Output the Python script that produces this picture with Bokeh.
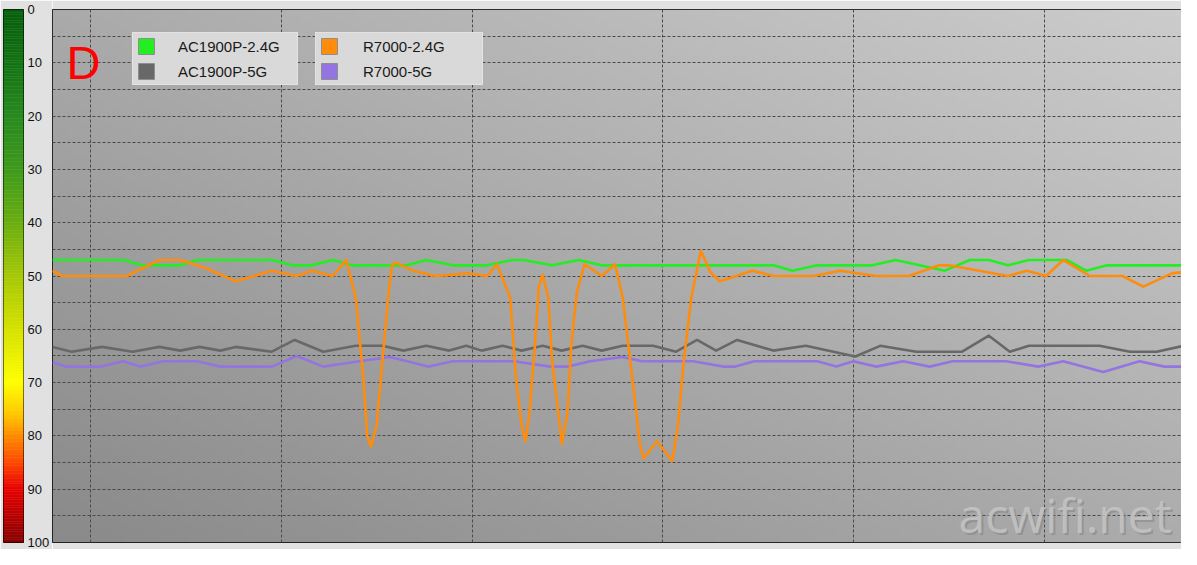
import numpy as np
from bokeh.plotting import figure
from bokeh.models import Range1d, Grid, FixedTicker, Legend, LegendItem, Label
from bokeh.layouts import row
from bokeh.embed import file_html
from bokeh.resources import INLINE

# ---------------- data (signal level, 0 = top, 100 = bottom) ----------------
SERIES = ["AC1900P-2.4G", "AC1900P-5G", "R7000-2.4G", "R7000-5G"]

GREEN_X = [0, 3.7, 4.7, 6.7, 7.6, 11.5, 12.6, 13.6, 14.7, 15.7, 18.6, 19.6, 21.0, 22.8, 24.1, 24.7,
           26.2, 27.6, 28.8, 37.8, 38.8, 40.1, 43.0, 44.2, 46.8, 48.1, 49.1, 50.1, 51.2, 53.2, 54.2,
           55.3, 60]
GREEN_Y = [47, 47, 48, 48, 47, 47, 48, 48, 47, 48, 48, 47, 48, 48, 47, 47,
           48, 47, 48, 48, 49, 48, 48, 47, 49, 47, 47, 48, 47, 47, 49,
           48, 48]

GRAY_X = [0, 1.0, 2.6, 4.2, 5.6, 6.7, 7.7, 8.8, 9.6, 11.5, 12.7, 14.2, 15.9, 17.3, 18.4, 19.6,
          20.8, 21.7, 22.5, 23.6, 24.6, 25.7, 26.7, 27.8, 28.8, 29.9, 31.5, 32.7, 33.8, 34.8, 35.9,
          37.8, 39.5, 42.1, 43.4, 45.3, 47.7, 49.1, 50.2, 51.2, 54.9, 56.5, 57.9, 59.3, 60]
GRAY_Y = [63.3, 64.2, 63.3, 64.2, 63.3, 64, 63.3, 64, 63.3, 64.2, 62, 64.2, 63.1, 63.1, 64, 63.1,
          64, 63.1, 64, 63.1, 64, 63.1, 64, 63.1, 64, 63.1, 63.1, 64.2, 62, 64, 62,
          64, 63.1, 65.1, 63.1, 64.2, 64.2, 61.2, 64.2, 63.1, 63.1, 64.2, 64.2, 63.1, 63.1]

ORANGE_X = [0, 0.5, 3.9, 5.6, 6.7, 8.1, 9.6, 11.5, 12.8, 13.6, 14.7, 15.4, 15.9, 16.3, 16.5, 16.7,
            17.0, 17.3, 17.6, 17.8, 18.0, 18.9, 20.1, 21.8, 22.8, 23.3, 24.0, 24.3, 24.6, 24.8,
            25.0, 25.3, 25.5, 25.7, 26.0, 26.2, 26.6, 26.7, 27.0, 27.2, 27.5, 27.9, 28.8, 29.5,
            29.9, 30.4, 30.8, 31.0, 31.7, 32.5, 32.8, 33.1, 33.5, 34.0, 34.5, 35.0, 36.7, 37.8,
            39.9, 41.3, 43.2, 44.9, 46.5, 47.0, 48.6, 50.1, 51.1, 52.1, 53.0, 54.4, 56.1, 57.2,
            58.7, 60]
ORANGE_Y = [49, 50, 50, 47, 47, 48.6, 51, 49, 50, 49, 50, 47, 54, 69, 80, 82,
            78, 66, 54, 48, 47.5, 49, 50, 49.5, 50, 47.8, 54, 69, 78, 81,
            76, 63, 52, 49.8, 54, 66, 78, 81.5, 76, 63, 53, 47.8, 50, 47.8,
            54, 69, 81.5, 84.2, 81, 84.7, 78, 66, 54, 45.3, 49.3, 51, 49, 50,
            50, 49, 50, 50, 48, 48, 49, 50, 49, 50, 47, 50, 50, 52,
            49.5, 49]

PURPLE_X = [0, 0.7, 2.5, 3.7, 4.6, 5.8, 7.6, 8.8, 11.5, 12.8, 14.2, 16.1, 17.7, 19.7, 21.0, 24.2,
            26.1, 27.0, 28.2, 29.9, 30.9, 33.6, 35.2, 35.8, 36.8, 40.1, 41.1, 42.0, 43.2, 44.6,
            46.0, 47.2, 50.0, 51.7, 53.0, 55.1, 57.0, 58.3, 60]
PURPLE_Y = [66.2, 67, 67, 66, 67, 66, 66, 67, 67, 65, 67, 66, 65.2, 67, 66, 66,
            67, 67, 66, 65.2, 66, 66, 67, 67, 66, 66, 67, 66, 67, 66,
            67, 66, 66, 67, 66, 68, 66, 67, 67]

Y_LABEL_TICKS = [0, 10, 20, 30, 40, 50, 60, 70, 80, 90, 100]
Y_GRID_TICKS = [5, 10, 15, 20, 25, 30, 35, 40, 45, 50, 55, 60, 65, 70, 75, 80, 85, 90, 95]
X_GRID_TICKS = [2, 12, 22, 32, 42, 52]

# ---------------- styling ----------------
FONT = "Liberation Sans"
C_GREEN = "#22ee22"
C_GRAY = "#686868"
C_ORANGE = "#ff8c0a"
C_PURPLE = "#9474e0"
PANEL = "#e1e1e1"

W_CB, W_MAIN, H = 52, 1129, 549
TOP, BOTTOM = 9, 7
FRAME_BOTTOM = H - BOTTOM
X_PX_PER_UNIT = 19.07

# ---------------- main plot ----------------
p = figure(width=W_MAIN, height=H, x_range=Range1d(0, W_MAIN / X_PX_PER_UNIT), y_range=Range1d(100, 0),
           x_axis_type=None, y_axis_type=None, toolbar_location=None, output_backend="svg",
           min_border_left=0, min_border_right=0, min_border_top=TOP, min_border_bottom=BOTTOM,
           background_fill_color="#a8a8a8", border_fill_color=PANEL,
           outline_line_color="black", outline_line_width=1)
p.extra_x_ranges = {"bg": Range1d(0, 1)}
p.extra_y_ranges = {"bg": Range1d(0, 1)}

# diagonal grey gradient background
GH, GW = 80, 160
yy, xx = np.mgrid[0:GH, 0:GW]
g = (138 + 34 * xx / (GW - 1) + 32 * yy / (GH - 1)).astype(np.uint8)
img = np.empty((GH, GW), dtype=np.uint32)
view = img.view(dtype=np.uint8).reshape((GH, GW, 4))
view[..., 0] = g
view[..., 1] = g
view[..., 2] = g
view[..., 3] = 255
p.image_rgba(image=[img], x=0, y=0, dw=1, dh=1, x_range_name="bg", y_range_name="bg", level="image")

grid_kw = dict(grid_line_color="#4a4a4a", grid_line_dash="3 2", grid_line_width=1)
p.add_layout(Grid(dimension=0, ticker=FixedTicker(ticks=X_GRID_TICKS), **grid_kw))
p.add_layout(Grid(dimension=1, ticker=FixedTicker(ticks=Y_GRID_TICKS), **grid_kw))

lw = 2.6
p.line(GREEN_X, GREEN_Y, line_color=C_GREEN, line_width=lw, line_join="round")
p.line(GRAY_X, GRAY_Y, line_color=C_GRAY, line_width=lw, line_join="round")
p.line(PURPLE_X, PURPLE_Y, line_color=C_PURPLE, line_width=lw, line_join="round")
p.line(ORANGE_X, ORANGE_Y, line_color=C_ORANGE, line_width=lw, line_join="round")

# legend swatches (legend-only renderers, nothing drawn in the plot)
def swatch(color):
    nan = [float("nan")]
    return p.quad(left=nan, right=nan, top=nan, bottom=nan, fill_color=color,
                  line_color="#8e8e8e", line_width=1)

sw = [swatch(C_GREEN), swatch(C_GRAY), swatch(C_ORANGE), swatch(C_PURPLE)]

leg_kw = dict(orientation="vertical", padding=3, spacing=5, margin=0,
              glyph_width=20, glyph_height=20, label_width=116, label_height=20,
              label_text_font=FONT, label_text_font_size="15px", label_text_color="#1a1a1a",
              background_fill_color="#d9d9d9", background_fill_alpha=1.0,
              border_line_color="#ededed", border_line_width=1)
LEG_BOTTOM = FRAME_BOTTOM - 85
leg1 = Legend(items=[LegendItem(label=SERIES[0], renderers=[sw[0]]),
                     LegendItem(label=SERIES[1], renderers=[sw[1]])],
              location=(80, LEG_BOTTOM), label_standoff=22, **leg_kw)
leg2 = Legend(items=[LegendItem(label=SERIES[2], renderers=[sw[2]]),
                     LegendItem(label=SERIES[3], renderers=[sw[3]])],
              location=(263, LEG_BOTTOM), label_standoff=24, **leg_kw)
p.add_layout(leg1)
p.add_layout(leg2)

p.add_layout(Label(x=14, y=FRAME_BOTTOM - 62, x_units="screen", y_units="screen", text="D",
                   text_baseline="alphabetic",
                   text_color="#ff0000", text_font=FONT, text_font_size="47px"))

# watermark (shadow + text)
p.add_layout(Label(x=908, y=26, x_units="screen", y_units="screen", text="acwifi.net",
                   text_baseline="alphabetic",
                   text_color="#7a7a7a", text_alpha=0.45, text_font="Open Sans", text_font_size="48px"))
p.add_layout(Label(x=906, y=28, x_units="screen", y_units="screen", text="acwifi.net",
                   text_baseline="alphabetic",
                   text_color="#c4c4c4", text_alpha=0.9, text_font="Open Sans", text_font_size="48px"))

# ---------------- colour scale (frame = bar, labels on a right axis) ----------------
cb = figure(width=W_CB, height=H, x_range=Range1d(0, 1), y_range=Range1d(100, 0),
            x_axis_type=None, y_axis_location="right", toolbar_location=None, output_backend="svg",
            min_border_left=3, min_border_right=0, min_border_top=TOP, min_border_bottom=BOTTOM,
            background_fill_color=PANEL, border_fill_color=PANEL,
            outline_line_color="black", outline_line_width=1)
cb.grid.visible = False
ax = cb.yaxis[0]
ax.ticker = FixedTicker(ticks=Y_LABEL_TICKS)
ax.axis_line_color = None
ax.major_tick_line_color = None
ax.minor_tick_line_color = None
ax.major_tick_out = 0
ax.major_tick_in = 0
ax.major_label_standoff = 4
ax.major_label_text_font = FONT
ax.major_label_text_font_size = "13px"
ax.major_label_text_color = "#111111"

STOPS = [0, 10, 20, 30, 40, 50, 60, 70, 76, 80, 85, 90, 95, 100]
STOP_COLORS = ["#075e0d", "#137313", "#288a1f", "#3f9a1c", "#6aae12", "#a6c808", "#d6e200",
               "#ffff00", "#ffc800", "#ff8c00", "#ff4a00", "#e80000", "#b80000", "#840000"]
rgb = np.array([[int(c[i:i + 2], 16) for i in (1, 3, 5)] for c in STOP_COLORS])
edges = np.arange(0, 100, 0.5)
mid = edges + 0.25
cols = []
for v in mid:
    r, gg, b = (int(round(np.interp(v, STOPS, rgb[:, k]))) for k in range(3))
    cols.append("#%02x%02x%02x" % (r, gg, b))
cb.quad(left=0, right=1, top=edges, bottom=edges + 0.5, fill_color=cols, line_color=cols, line_width=0.5)

layout = row(cb, p)
open("out.html", "w").write(file_html(layout, INLINE))
